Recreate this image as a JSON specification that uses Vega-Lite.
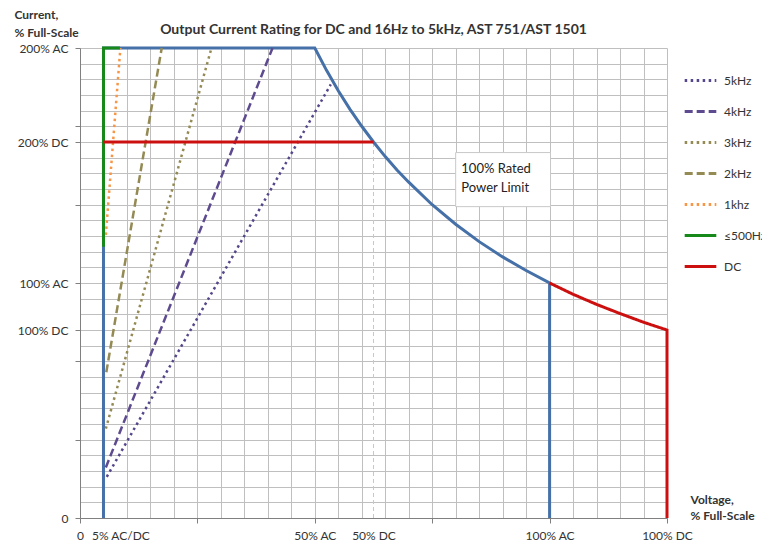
{
  "$schema": "https://vega.github.io/schema/vega-lite/v6.json",
  "width": 587,
  "height": 470,
  "autosize": {"type": "none"},
  "padding": {"left": 80, "top": 48, "right": 95, "bottom": 41},
  "background": "white",
  "config": {"font": "Lato", "view": {"stroke": null}},
  "title": {
    "text": "Output Current Rating for DC and 16Hz to 5kHz, AST 751/AST 1501",
    "fontSize": 14,
    "fontWeight": "bold",
    "color": "#333333",
    "anchor": "middle",
    "offset": 14,
    "dy": 43
  },
  "datasets": {
    "power": [
      {"v": 5, "i": 0}, {"v": 5, "i": 200}, {"v": 50, "i": 200},
      {"v": 52.5, "i": 190.5}, {"v": 55, "i": 181.8}, {"v": 57.5, "i": 173.9},
      {"v": 60, "i": 166.7}, {"v": 62.5, "i": 160}, {"v": 65, "i": 153.8},
      {"v": 67.5, "i": 148.1}, {"v": 70, "i": 142.9}, {"v": 75, "i": 133.3},
      {"v": 80, "i": 125}, {"v": 85, "i": 117.6}, {"v": 90, "i": 111.1},
      {"v": 95, "i": 105.3}, {"v": 100, "i": 100}, {"v": 100, "i": 0}
    ],
    "guide": [{"v": 62.5, "i": 0}, {"v": 62.5, "i": 160}],
    "freq": [
      {"s": "5kHz", "v": 5.7, "i": 17.5}, {"s": "5kHz", "v": 53.4, "i": 184.5},
      {"s": "4kHz", "v": 5.5, "i": 21.5}, {"s": "4kHz", "v": 41, "i": 200},
      {"s": "3kHz", "v": 5.5, "i": 38}, {"s": "3kHz", "v": 28, "i": 200},
      {"s": "2kHz", "v": 5.6, "i": 62}, {"s": "2kHz", "v": 17.4, "i": 200},
      {"s": "1khz", "v": 5.5, "i": 120.5}, {"s": "1khz", "v": 8.6, "i": 200}
    ],
    "limits": [
      {"s": "≤500Hz", "g": "a", "v": 5, "i": 115.4}, {"s": "≤500Hz", "g": "a", "v": 5, "i": 200}, {"s": "≤500Hz", "g": "a", "v": 8.5, "i": 200},
      {"s": "DC", "g": "b", "v": 5, "i": 160}, {"s": "DC", "g": "b", "v": 62.5, "i": 160},
      {"s": "DC", "g": "c", "v": 100, "i": 100}, {"s": "DC", "g": "c", "v": 105, "i": 95.2},
      {"s": "DC", "g": "c", "v": 110, "i": 90.9}, {"s": "DC", "g": "c", "v": 115, "i": 87},
      {"s": "DC", "g": "c", "v": 120, "i": 83.3}, {"s": "DC", "g": "c", "v": 125, "i": 80},
      {"s": "DC", "g": "c", "v": 125, "i": 0}
    ],
    "box": [{"v": 80, "v2": 100.2, "i": 155.5, "i2": 132.5}],
    "note": [{"v": 81.2, "i": 151, "t": "100% Rated\nPower Limit"}]
  },
  "encoding": {
    "x": {
      "field": "v",
      "type": "quantitative",
      "scale": {"domain": [0, 125], "nice": false, "zero": false},
      "axis": {
        "values": [0, 5, 10, 15, 20, 25, 30, 35, 40, 45, 50, 55, 60, 62.5, 65, 70, 75, 80, 85, 90, 95, 100, 105, 110, 115, 120, 125],
        "labelExpr": "datum.value == 0 ? '0' : datum.value == 5 ? '5% AC/DC' : datum.value == 50 ? '50% AC' : datum.value == 62.5 ? '50% DC' : datum.value == 100 ? '100% AC' : datum.value == 125 ? '100% DC' : ''",
        "gridColor": "#BFBFBF",
        "gridOpacity": {"condition": {"test": "datum.value == 62.5", "value": 0}, "value": 1},
        "tickOpacity": {"condition": {"test": "datum.value % 25 == 0", "value": 1}, "value": 0},
        "tickSize": 5,
        "tickColor": "#808080",
        "domainColor": "#808080",
        "labelOverlap": false,
        "labelFlush": false,
        "labelBound": false,
        "labelPadding": 7,
        "labelFontSize": 12,
        "labelColor": "#333333",
        "labelOffset": {"condition": {"test": "datum.value == 5", "value": 17}, "value": 0},
        "title": ["Voltage,", "% Full-Scale"],
        "titleX": 610,
        "titleY": -24,
        "titleAlign": "left",
        "titleBaseline": "top",
        "titleAnchor": null,
        "titleFontSize": 12,
        "titleFontWeight": "bold",
        "titleLineHeight": 16,
        "titleColor": "#333333"
      }
    },
    "y": {
      "field": "i",
      "type": "quantitative",
      "scale": {"domain": [0, 200], "nice": false, "zero": false},
      "axis": {
        "values": [0, 6.6667, 13.3333, 20, 26.6667, 33.3333, 40, 46.6667, 53.3333, 60, 66.6667, 73.3333, 80, 86.6667, 93.3333, 100, 106.6667, 113.3333, 120, 126.6667, 133.3333, 140, 146.6667, 153.3333, 160, 166.6667, 173.3333, 180, 186.6667, 193.3333, 200],
        "labelExpr": "datum.value == 0 ? '0' : datum.value == 80 ? '100% DC' : datum.value == 100 ? '100% AC' : datum.value == 160 ? '200% DC' : datum.value == 200 ? '200% AC' : ''",
        "gridColor": "#BFBFBF",
        "tickOpacity": {"condition": {"test": "indexof([0, 33.3333, 66.6667, 100, 133.3333, 166.6667, 200, 80, 160], datum.value) >= 0", "value": 1}, "value": 0},
        "tickSize": 5,
        "tickColor": "#808080",
        "domainColor": "#808080",
        "labelOverlap": false,
        "labelFlush": false,
        "labelBound": false,
        "labelPadding": 7,
        "labelFontSize": 12,
        "labelColor": "#333333",
        "title": ["Current,", "% Full-Scale"],
        "titleAngle": 0,
        "titleX": -66,
        "titleY": -39,
        "titleAlign": "left",
        "titleBaseline": "top",
        "titleAnchor": null,
        "titleFontSize": 12,
        "titleFontWeight": "bold",
        "titleLineHeight": 18,
        "titleColor": "#333333"
      }
    }
  },
  "layer": [
    {
      "data": {"name": "guide"},
      "mark": {"type": "line", "color": "#C8C8C8", "strokeWidth": 1, "strokeDash": [4, 3]},
      "encoding": {"order": {"value": null}}
    },
    {
      "data": {"name": "power"},
      "mark": {"type": "line", "color": "#4570A8", "strokeWidth": 3},
      "encoding": {"order": {"value": null}}
    },
    {
      "data": {"name": "freq"},
      "mark": {"type": "line", "strokeWidth": 2.5},
      "encoding": {
        "order": {"value": null},
        "color": {
          "field": "s",
          "type": "nominal",
          "scale": {
            "domain": ["5kHz", "4kHz", "3kHz", "2kHz", "1khz", "≤500Hz", "DC"],
            "range": ["#56468A", "#5E4B8F", "#948A54", "#948A54", "#F79646", "#16891A", "#CC1010"]
          },
          "legend": {
            "orient": "none", "legendX": 603, "legendY": 15, "title": null,
            "symbolType": "stroke", "symbolSize": 1000, "symbolStrokeWidth": 3,
            "labelFontSize": 12, "labelColor": "#333333", "rowPadding": 7,
            "labelOffset": 6, "padding": 0, "labelLimit": 200
          }
        },
        "strokeDash": {
          "field": "s",
          "type": "nominal",
          "scale": {
            "domain": ["5kHz", "4kHz", "3kHz", "2kHz", "1khz", "≤500Hz", "DC"],
            "range": [[2.5, 3.5], [8, 4], [2.5, 3.5], [8, 4], [2.5, 3.5], [1, 0], [1, 0]]
          },
          "legend": {
            "orient": "none", "legendX": 603, "legendY": 15, "title": null,
            "symbolType": "stroke", "symbolSize": 1000, "symbolStrokeWidth": 3,
            "labelFontSize": 12, "labelColor": "#333333", "rowPadding": 7,
            "labelOffset": 6, "padding": 0, "labelLimit": 200
          }
        }
      }
    },
    {
      "data": {"name": "limits"},
      "mark": {"type": "line", "strokeWidth": 3},
      "encoding": {
        "order": {"value": null},
        "detail": {"field": "g"},
        "color": {
          "field": "s",
          "type": "nominal",
          "scale": {
            "domain": ["5kHz", "4kHz", "3kHz", "2kHz", "1khz", "≤500Hz", "DC"],
            "range": ["#56468A", "#5E4B8F", "#948A54", "#948A54", "#F79646", "#16891A", "#CC1010"]
          },
          "legend": {
            "orient": "none", "legendX": 603, "legendY": 15, "title": null,
            "symbolType": "stroke", "symbolSize": 1000, "symbolStrokeWidth": 3,
            "labelFontSize": 12, "labelColor": "#333333", "rowPadding": 7,
            "labelOffset": 6, "padding": 0, "labelLimit": 200
          }
        },
        "strokeDash": {
          "field": "s",
          "type": "nominal",
          "scale": {
            "domain": ["5kHz", "4kHz", "3kHz", "2kHz", "1khz", "≤500Hz", "DC"],
            "range": [[2.5, 3.5], [8, 4], [2.5, 3.5], [8, 4], [2.5, 3.5], [1, 0], [1, 0]]
          },
          "legend": {
            "orient": "none", "legendX": 603, "legendY": 15, "title": null,
            "symbolType": "stroke", "symbolSize": 1000, "symbolStrokeWidth": 3,
            "labelFontSize": 12, "labelColor": "#333333", "rowPadding": 7,
            "labelOffset": 6, "padding": 0, "labelLimit": 200
          }
        }
      }
    },
    {
      "data": {"name": "box"},
      "mark": {"type": "rect", "fill": "white", "stroke": "#C8C8C8", "strokeWidth": 1},
      "encoding": {"x2": {"field": "v2"}, "y2": {"field": "i2"}}
    },
    {
      "data": {"name": "note"},
      "mark": {"type": "text", "align": "left", "baseline": "top", "fontSize": 13, "lineBreak": "\n", "lineHeight": 19, "color": "#222222"},
      "encoding": {"text": {"field": "t"}}
    }
  ]
}
